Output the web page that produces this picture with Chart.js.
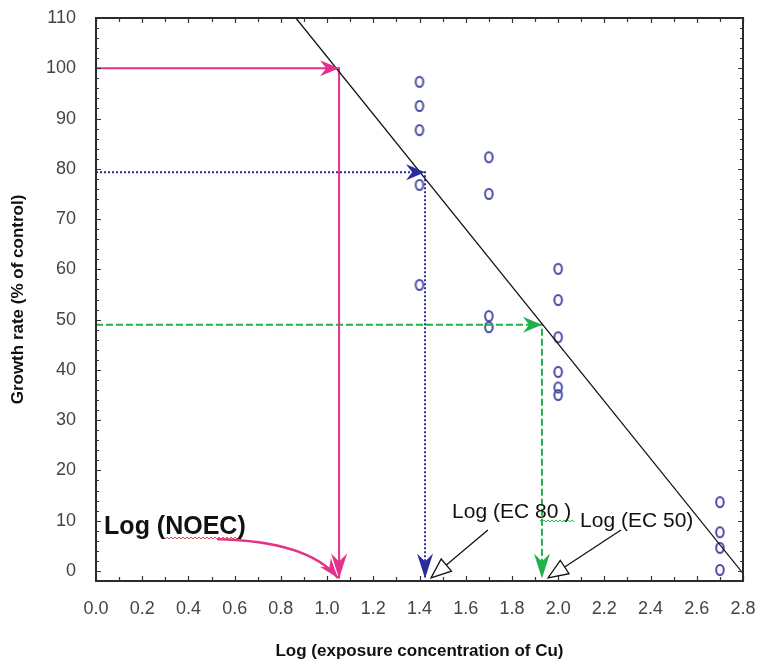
<!DOCTYPE html>
<html>
<head>
<meta charset="utf-8">
<script src="https://cdn.jsdelivr.net/npm/chart.js@4/dist/chart.umd.min.js"></script>
<style>
  html, body { margin: 0; padding: 0; background: #fff; }
  canvas { display: block; }
</style>
</head>
<body>
<canvas id="chart" width="763" height="664"></canvas>
<script>
// Observations : log concentration / taux de croissance
const doseX = [1.4, 1.4, 1.4, 1.4, 1.4, 1.7, 1.7, 1.7, 1.7, 2.0, 2.0, 2.0, 2.0, 2.0, 2.0, 2.7, 2.7, 2.7, 2.7];
const growth = [97.3, 92.5, 87.7, 76.8, 56.9, 82.3, 75.0, 50.7, 48.5, 60.1, 53.9, 46.5, 39.6, 36.5, 35.0, 13.7, 7.7, 4.6, 0.2];

// Droite de regression
const fitX = [0.865, 2.8];
const fitY = [110, -0.5];

// Lectures NOEC / EC80 / EC50
const noecX = [0, 1.052, 1.052];
const noecY = [100, 100, -1.5];
const ec80X = [0, 1.424, 1.424];
const ec80Y = [79.3, 79.3, -1.5];
const ec50X = [0, 1.93, 1.93];
const ec50Y = [49, 49, -1.5];

// Axes
const xTicks = [0, 0.2, 0.4, 0.6, 0.8, 1.0, 1.2, 1.4, 1.6, 1.8, 2.0, 2.2, 2.4, 2.6, 2.8];
const yTicks = [0, 10, 20, 30, 40, 50, 60, 70, 80, 90, 100, 110];

// Annotations (texte + fleches)
const noteText = ['Log (NOEC)', 'Log (EC 80 )', 'Log (EC 50)'];
const noteX = [0.035, 1.541, 2.095];
const noteY = [8.74, 11.73, 9.94];
const curveX = [0.524, 0.918, 1.047];   // depart, controle, arrivee
const curveY = [6.3, 5.96, -1.4];
const calloutFromX = [1.696, 2.272];
const calloutFromY = [8.15, 8.15];
const calloutToX = [1.45, 1.956];
const calloutToY = [-1.4, -1.4];
const squiggleX = [[0.29, 0.636], [1.921, 2.073]];
const squiggleY = [6.55, 9.94];

const PINK = '#e5318b';
const BLUE = '#2b2b9c';
const GREEN = '#22b04b';

const toXY = (xs, ys) => xs.map((x, i) => ({ x: x, y: ys[i] }));

// petit "o" pour les points
const ring = document.createElement('canvas');
ring.width = 14; ring.height = 16;
(function () {
    const c = ring.getContext('2d');
    c.strokeStyle = '#4a4aa8';
    c.lineWidth = 2;
    c.beginPath();
    c.ellipse(7, 8, 3.8, 5.0, 0, 0, Math.PI * 2);
    c.stroke();
})();

function stealth(ctx, tx, ty, ang, len, half, color) {
    ctx.save();
    ctx.translate(tx, ty);
    ctx.rotate(ang);
    ctx.beginPath();
    ctx.moveTo(0, 0);
    ctx.lineTo(-len, -half);
    ctx.lineTo(-len * 0.68, 0);
    ctx.lineTo(-len, half);
    ctx.closePath();
    ctx.fillStyle = color;
    ctx.fill();
    ctx.restore();
}

function openHead(ctx, tx, ty, ang, len, half) {
    ctx.save();
    ctx.translate(tx, ty);
    ctx.rotate(ang);
    ctx.beginPath();
    ctx.moveTo(0, 0);
    ctx.lineTo(-len, -half);
    ctx.lineTo(-len, half);
    ctx.closePath();
    ctx.fillStyle = '#fff';
    ctx.fill();
    ctx.strokeStyle = '#111';
    ctx.lineWidth = 1.3;
    ctx.stroke();
    ctx.restore();
}

function squiggle(ctx, x0, x1, y, color) {
    ctx.save();
    ctx.strokeStyle = color;
    ctx.lineWidth = 1;
    ctx.beginPath();
    let up = true;
    for (let x = x0; x <= x1; x += 2) {
        const yy = y + (up ? -1 : 1);
        if (x === x0) ctx.moveTo(x, yy); else ctx.lineTo(x, yy);
        up = !up;
    }
    ctx.stroke();
    ctx.restore();
}

const extras = {
    id: 'extras',
    afterDatasetsDraw(chart) {
        const ctx = chart.ctx;
        const sx = chart.scales.x, sy = chart.scales.y;
        const X = v => sx.getPixelForValue(v);
        const Y = v => sy.getPixelForValue(v);
        const a = chart.chartArea;

        // cadre + graduations interieures
        ctx.save();
        ctx.strokeStyle = '#333';
        ctx.lineWidth = 1.2;
        ctx.beginPath();
        for (let i = 0; i <= 28; i++) {
            const p = Math.round(X(i / 10)) + 0.5;
            const l = i % 2 === 0 ? 5 : 4;
            ctx.moveTo(p, a.top); ctx.lineTo(p, a.top + l);
            ctx.moveTo(p, a.bottom); ctx.lineTo(p, a.bottom - l);
        }
        for (let v = 0; v <= 110; v += 2) {
            const p = Math.round(Y(v)) + 0.5;
            const l = v % 10 === 0 ? 5 : 3;
            ctx.moveTo(a.left, p); ctx.lineTo(a.left + l, p);
            ctx.moveTo(a.right, p); ctx.lineTo(a.right - l, p);
        }
        ctx.stroke();
        ctx.lineWidth = 2;
        ctx.strokeStyle = '#2a2a2a';
        ctx.strokeRect(a.left, a.top, a.right - a.left, a.bottom - a.top);
        ctx.restore();

        // pointes des lectures
        const guides = [[noecX, noecY, PINK], [ec80X, ec80Y, BLUE], [ec50X, ec50Y, GREEN]];
        guides.forEach(g => {
            const [xs, ys, col] = g;
            stealth(ctx, X(xs[1]), Y(ys[1]), 0, 19, 8, col);
            stealth(ctx, X(xs[2]), Y(ys[2]), Math.PI / 2, 25, 8, col);
        });

        // courbe rose vers NOEC
        ctx.save();
        ctx.strokeStyle = PINK;
        ctx.lineWidth = 2.5;
        ctx.beginPath();
        ctx.moveTo(X(curveX[0]), Y(curveY[0]));
        ctx.quadraticCurveTo(X(curveX[1]), Y(curveY[1]), X(curveX[2]), Y(curveY[2]));
        ctx.stroke();
        ctx.restore();
        const cang = Math.atan2(Y(curveY[2]) - Y(curveY[1]), X(curveX[2]) - X(curveX[1]));
        stealth(ctx, X(curveX[2]), Y(curveY[2]), cang, 20, 7, PINK);

        // fleches de renvoi EC80 / EC50
        for (let i = 0; i < 2; i++) {
            const x0 = X(calloutFromX[i]), y0 = Y(calloutFromY[i]);
            const x1 = X(calloutToX[i]), y1 = Y(calloutToY[i]);
            const ang = Math.atan2(y1 - y0, x1 - x0);
            ctx.save();
            ctx.strokeStyle = '#111';
            ctx.lineWidth = 1.3;
            ctx.beginPath();
            ctx.moveTo(x0, y0);
            ctx.lineTo(x1 - 20 * Math.cos(ang), y1 - 20 * Math.sin(ang));
            ctx.stroke();
            ctx.restore();
            openHead(ctx, x1, y1, ang, 20, 8);
        }

        // soulignements
        squiggle(ctx, X(squiggleX[0][0]), X(squiggleX[0][1]), Y(squiggleY[0]), '#e05050');
        squiggle(ctx, X(squiggleX[1][0]), X(squiggleX[1][1]), Y(squiggleY[1]), GREEN);

        // textes
        ctx.save();
        ctx.fillStyle = '#111';
        ctx.textBaseline = 'middle';
        ctx.textAlign = 'left';
        ctx.font = 'bold 25px "Liberation Sans", Arial, sans-serif';
        ctx.fillText(noteText[0], X(noteX[0]), Y(noteY[0]));
        ctx.font = '21px "Liberation Sans", Arial, sans-serif';
        ctx.fillText(noteText[1], X(noteX[1]), Y(noteY[1]));
        ctx.fillText(noteText[2], X(noteX[2]), Y(noteY[2]));
        ctx.restore();
    }
};

const tickFont = { family: '"Liberation Sans", Arial, sans-serif', size: 18 };
const titleFont = { family: '"Liberation Sans", Arial, sans-serif', size: 17, weight: 'bold' };

new Chart(document.getElementById('chart'), {
    type: 'scatter',
    data: {
        datasets: [
            { data: toXY(fitX, fitY), showLine: true, borderColor: '#111', borderWidth: 1.3, pointRadius: 0 },
            { data: toXY(noecX, noecY), showLine: true, borderColor: PINK, borderWidth: 2, pointRadius: 0 },
            { data: toXY(ec80X, ec80Y), showLine: true, borderColor: BLUE, borderWidth: 2, borderDash: [2, 2], pointRadius: 0 },
            { data: toXY(ec50X, ec50Y), showLine: true, borderColor: GREEN, borderWidth: 2, borderDash: [7, 3], pointRadius: 0 },
            { data: toXY(doseX, growth), pointStyle: ring, pointRadius: 7 }
        ]
    },
    options: {
        responsive: false,
        animation: false,
        devicePixelRatio: 1,
        layout: { padding: { top: 18, right: 20, left: 0, bottom: 0 } },
        plugins: { legend: { display: false }, tooltip: { enabled: false } },
        scales: {
            x: {
                type: 'linear', min: 0, max: 2.8,
                afterBuildTicks: s => { s.ticks = xTicks.map(v => ({ value: v })); },
                afterFit: s => { s.height = 83; s.paddingLeft = 0; s.paddingRight = 0; },
                grid: { display: false }, border: { display: false },
                ticks: { font: tickFont, color: '#444', padding: 9, maxRotation: 0, callback: v => v.toFixed(1) },
                title: { display: true, text: 'Log (exposure concentration of Cu)', font: titleFont, color: '#111', padding: { top: 0, bottom: 2 } }
            },
            y: {
                type: 'linear', min: -2, max: 110,
                afterBuildTicks: s => { s.ticks = yTicks.map(v => ({ value: v })); },
                afterFit: s => { s.width = 96; s.paddingTop = 0; s.paddingBottom = 0; },
                grid: { display: false }, border: { display: false },
                ticks: { font: tickFont, color: '#444', padding: 12 },
                title: { display: true, text: 'Growth rate (% of control)', font: titleFont, color: '#111', padding: { top: 8, bottom: 0 } }
            }
        }
    },
    plugins: [extras]
});
</script>
</body>
</html>
